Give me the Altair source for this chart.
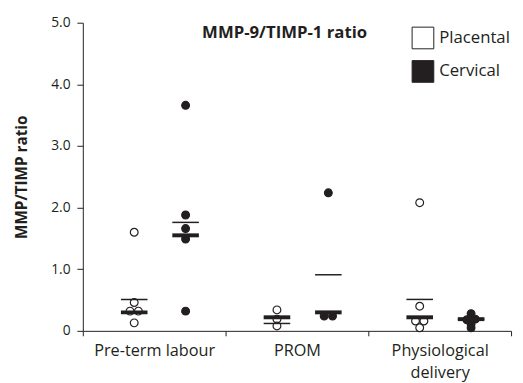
import altair as alt
import pandas as pd

groups = ["Pre-term labour", "PROM", "Physiological delivery"]
series = ["Placental", "Cervical"]

placental_values = [[1.60, 0.46, 0.32, 0.32, 0.13],
                    [0.34, 0.19, 0.08],
                    [2.08, 0.40, 0.16, 0.16, 0.05]]
cervical_values = [[3.66, 1.88, 1.66, 1.49, 0.32],
                   [2.24, 0.24, 0.24],
                   [0.28, 0.19, 0.18, 0.11, 0.05]]

placental_median = [0.30, 0.22, 0.22]
placental_mean = [0.51, 0.12, 0.51]
cervical_median = [1.55, 0.30, 0.19]
cervical_mean = [1.76, 0.91, 0.19]

y_ticks = [0, 1, 2, 3, 4, 5]

INK = "#231f20"
FONT = "Open Sans"
W, H = 435, 313
BW = W / 3
series_pos = {"Placental": 0.36, "Cervical": 0.72}
DOT_STEP = 8.5 / BW


def swarm(vals):
    # spread near-equal values side by side (simple beeswarm)
    order = sorted(range(len(vals)), key=lambda i: vals[i])
    offs = [0.0] * len(vals)
    clusters, cur = [], [order[0]]
    for i in order[1:]:
        if abs(vals[i] - vals[cur[-1]]) < 0.05:
            cur.append(i)
        else:
            clusters.append(cur)
            cur = [i]
    clusters.append(cur)
    for c in clusters:
        n = len(c)
        for k, i in enumerate(c):
            offs[i] = (k - (n - 1) / 2) * DOT_STEP
    return offs


rows = []
for s, allvals in (("Placental", placental_values), ("Cervical", cervical_values)):
    for g, vals in zip(groups, allvals):
        for v, o in zip(vals, swarm(vals)):
            rows.append({"group": g, "series": s, "value": v, "off": series_pos[s] + o})
pts = pd.DataFrame(rows)

srows = []
for s, med, mn in (("Placental", placental_median, placental_mean),
                   ("Cervical", cervical_median, cervical_mean)):
    for g, m1, m2 in zip(groups, med, mn):
        srows.append({"group": g, "series": s, "median": m1, "mean": m2, "off": series_pos[s]})
stats = pd.DataFrame(srows)

xenc = alt.X("group:N", sort=groups, title=None,
             scale=alt.Scale(paddingInner=0, paddingOuter=0),
             axis=alt.Axis(labelAngle=0, tickBand="extent", tickSize=5, tickColor=INK,
                           domainColor=INK, labelColor=INK, labelFont=FONT, labelFontSize=16.5,
                           labelPadding=7, labelLineHeight=22, labelBaseline="top",
                           labelExpr="datum.label == 'Physiological delivery' ? ['Physiological', 'delivery'] : datum.label"))
xoff = alt.XOffset("off:Q", scale=alt.Scale(domain=[0, 1], range=[0, BW]))
yscale = alt.Scale(domain=[0, 5], nice=False)

points = alt.Chart(pts).mark_circle(size=62, stroke=INK, strokeWidth=1.2, opacity=1).encode(
    x=xenc,
    xOffset=xoff,
    y=alt.Y("value:Q", scale=yscale, title="MMP/TIMP ratio",
            axis=alt.Axis(values=y_ticks, grid=False, tickSize=6, tickColor=INK, domainColor=INK,
                          labelColor=INK, labelFont=FONT, labelFontSize=14, labelPadding=7,
                          labelExpr="datum.value == 0 ? '0' : format(datum.value, '.1f')",
                          titleFont=FONT, titleFontSize=15.5, titleFontWeight="bold",
                          titleColor=INK, titlePadding=22)),
    fill=alt.Fill("series:N", scale=alt.Scale(domain=series, range=["white", INK]),
                  legend=alt.Legend(title=None, orient="none", legendX=334, legendY=4,
                                    symbolType="square", symbolSize=484,
                                    symbolStrokeColor=INK, symbolStrokeWidth=1,
                                    labelFont=FONT, labelFontSize=17, labelColor=INK,
                                    labelOffset=5, rowPadding=7, padding=0)),
)

mean_ticks = alt.Chart(stats).mark_tick(color=INK, size=27, thickness=1.5, opacity=1,
                                        orient="horizontal").encode(
    x=xenc, xOffset=xoff, y=alt.Y("mean:Q", scale=yscale))
median_ticks = alt.Chart(stats).mark_tick(color=INK, size=27, thickness=4, opacity=1,
                                          orient="horizontal").encode(
    x=xenc, xOffset=xoff, y=alt.Y("median:Q", scale=yscale))

title_df = pd.DataFrame({"t": ["MMP-9/TIMP-1 ratio"]})
title = alt.Chart(title_df).mark_text(font=FONT, fontSize=17, fontWeight="bold", color=INK,
                                      align="center", baseline="middle").encode(
    text="t:N", x=alt.value(205), y=alt.value(11))

chart = alt.layer(points, mean_ticks, median_ticks, title).properties(
    width=W, height=H, autosize="none",
    padding={"left": 76, "top": 12, "right": 4, "bottom": 49},
).configure_view(stroke=None)

chart.save("out.html", embed_options={"renderer": "svg", "actions": False})
